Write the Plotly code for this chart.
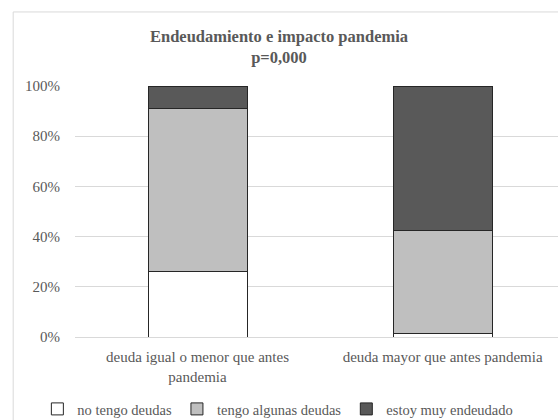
import plotly.graph_objects as go

categories = ["deuda igual o menor que antes<br>pandemia", "deuda mayor que antes pandemia"]
series_names = ["no tengo deudas", "tengo algunas deudas", "estoy muy endeudado"]
no_tengo = [26.0, 1.5]
algunas = [65.0, 41.0]
endeudado = [9.0, 57.5]
colors = ["#ffffff", "#bfbfbf", "#595959"]

FONT = "Liberation Serif"
GREY = "#595959"

fig = go.Figure()
for name, vals, col in zip(series_names, [no_tengo, algunas, endeudado], colors):
    fig.add_trace(go.Bar(
        x=categories, y=vals, name=name,
        marker=dict(color=col, line=dict(color="#262626", width=1)),
        width=0.404,
    ))

fig.update_layout(
    barmode="stack",
    width=558, height=420,
    paper_bgcolor="white", plot_bgcolor="white",
    margin=dict(l=75, r=0, t=86, b=83, autoexpand=False),
    font=dict(family=FONT, size=15, color=GREY),
    title=dict(
        text="<b>Endeudamiento e impacto pandemia<br>p=0,000</b>",
        x=0.5, xref="container", xanchor="center",
        y=0.9, yref="container", yanchor="top",
        font=dict(family=FONT, size=16.5, color=GREY),
    ),
    xaxis=dict(
        type="category", range=[-0.5, 1.471], automargin=False,
        showgrid=False, showline=False, ticks="",
        ticklabelstandoff=9,
        tickfont=dict(family=FONT, size=15, color=GREY),
    ),
    yaxis=dict(
        range=[0, 100], dtick=20, ticksuffix="%", automargin=False,
        showgrid=True, gridcolor="#d9d9d9", gridwidth=1,
        zeroline=True, zerolinecolor="#d9d9d9", zerolinewidth=1,
        showline=False, ticks="", ticklabelstandoff=14,
        tickfont=dict(family=FONT, size=15, color=GREY),
    ),
    legend=dict(
        orientation="h", x=0.42, xanchor="center", xref="paper",
        y=-0.223, yanchor="top",
        font=dict(family=FONT, size=14.5, color=GREY),
        itemwidth=30, traceorder="normal",
    ),
    shapes=[
        dict(type="line", xref="paper", yref="paper",
             x0=-0.128, x1=1.2, y0=1.295, y1=1.295,
             line=dict(color="#d9d9d9", width=1), layer="above"),
        dict(type="line", xref="paper", yref="paper",
             x0=-0.128, x1=-0.128, y0=-0.5, y1=1.295,
             line=dict(color="#d9d9d9", width=1), layer="above"),
    ],
)

fig.write_html("out.html")
